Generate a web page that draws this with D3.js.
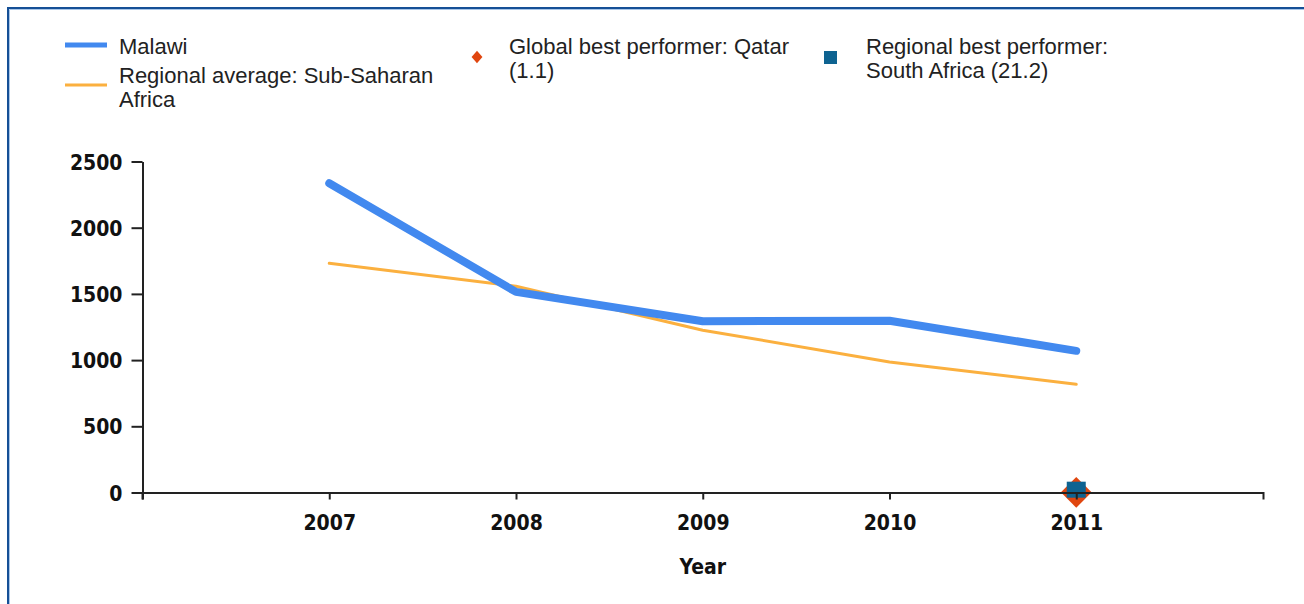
<!DOCTYPE html>
<html>
<head>
<meta charset="utf-8">
<script src="https://cdn.jsdelivr.net/npm/d3@7"></script>
<style>
  body { margin: 0; background: #fff; }
  svg { display: block; }
  .tick text { font-family: "DejaVu Sans Condensed", "DejaVu Sans", Verdana, sans-serif; font-stretch: condensed; font-weight: bold; font-size: 21px; fill: #111; }
  .legend text { font-family: "Liberation Sans", Arial, sans-serif; font-size: 22px; fill: #222; }
</style>
</head>
<body>
<div id="chart"></div>
<script>
// chart data
var years = [2007, 2008, 2009, 2010, 2011];
var malawi = [2336, 1515, 1294, 1297, 1070];
var regionalAvg = [1731, 1558, 1226, 986, 817];
var globalBest = [{year: 2011, value: 1.1}];
var regionalBest = [{year: 2011, value: 21.2}];
var yTicks = [0, 500, 1000, 1500, 2000, 2500];

var width = 1304,
    height = 604;

var svg = d3.select("#chart")
  .append("svg")
  .attr("width", width)
  .attr("height", height);

// frame border (left and top only visible)
svg.append("path")
  .attr("d", "M8,604 V8 H1304")
  .attr("fill", "none")
  .attr("stroke", "#154f96")
  .attr("stroke-width", 2);
svg.append("path")
  .attr("d", "M9.5,604 V9.5 H1304")
  .attr("fill", "none")
  .attr("stroke", "#a9c6e8")
  .attr("stroke-width", 1);

// scales
var xScale = d3.scaleLinear().domain([2006, 2012]).range([142.5, 1263]),
    yScale = d3.scaleLinear().domain([0, 2500]).range([492.5, 161.5]);

var line = d3.line()
  .x(function(d) { return xScale(d[0]); })
  .y(function(d) { return yScale(d[1]); });

// series lines
svg.append("path")
  .datum(d3.zip(years, regionalAvg))
  .attr("d", line)
  .attr("fill", "none")
  .attr("stroke", "#fbb03f")
  .attr("stroke-width", 3)
  .attr("stroke-linejoin", "round")
  .attr("stroke-linecap", "round");

svg.append("path")
  .datum(d3.zip(years, malawi))
  .attr("d", line)
  .attr("fill", "none")
  .attr("stroke", "#4289ef")
  .attr("stroke-width", 8)
  .attr("stroke-linejoin", "round")
  .attr("stroke-linecap", "round");

// best performer markers
var bigDiamond = d3.symbol().type(d3.symbolDiamond2).size(600);
svg.selectAll("path.global")
  .data(globalBest)
  .enter().append("path")
  .attr("class", "global")
  .attr("d", bigDiamond)
  .attr("transform", function(d) { return "translate(" + xScale(d.year) + "," + yScale(d.value) + ")"; })
  .attr("fill", "#e0460f");

svg.selectAll("rect.regional")
  .data(regionalBest)
  .enter().append("rect")
  .attr("class", "regional")
  .attr("x", function(d) { return xScale(d.year) - 9.5; })
  .attr("y", function(d) { return yScale(d.value) - 8; })
  .attr("width", 19)
  .attr("height", 16)
  .attr("fill", "#0e6391");

// axes
var xAxis = d3.axisBottom(xScale)
  .tickValues(years)
  .tickFormat(d3.format("d"))
  .tickSizeInner(7)
  .tickSizeOuter(7)
  .tickPadding(16);

var yAxis = d3.axisLeft(yScale)
  .tickValues(yTicks)
  .tickFormat(d3.format("d"))
  .tickSizeInner(11)
  .tickSizeOuter(0)
  .tickPadding(9);

var gx = svg.append("g")
  .attr("class", "x axis")
  .attr("transform", "translate(0," + yScale(0) + ")")
  .call(xAxis);

var gy = svg.append("g")
  .attr("class", "y axis")
  .attr("transform", "translate(" + xScale(2006) + ",0)")
  .call(yAxis);

svg.selectAll(".axis path, .axis line")
  .attr("stroke", "#222")
  .attr("stroke-width", 2);
gy.selectAll(".tick text").attr("dy", "0.36em");

// y axis runs a bit under the x axis
gy.append("line")
  .attr("x1", 0).attr("x2", 0)
  .attr("y1", yScale(0)).attr("y2", yScale(0) + 7)
  .attr("stroke", "#222")
  .attr("stroke-width", 2);

svg.append("text")
  .attr("x", (xScale(2009)))
  .attr("y", 574)
  .attr("text-anchor", "middle")
  .style("font-family", "'DejaVu Sans Condensed', 'DejaVu Sans', Verdana, sans-serif")
  .style("font-stretch", "condensed")
  .style("font-weight", "bold")
  .style("font-size", "21px")
  .style("fill", "#111")
  .text("Year");

// legend
var legend = svg.append("g").attr("class", "legend");

legend.append("line")
  .attr("x1", 65).attr("x2", 107).attr("y1", 45).attr("y2", 45)
  .attr("stroke", "#4289ef").attr("stroke-width", 5);
legend.append("line")
  .attr("x1", 65).attr("x2", 107).attr("y1", 85).attr("y2", 85)
  .attr("stroke", "#fbb03f").attr("stroke-width", 3);
legend.append("path")
  .attr("d", d3.symbol().type(d3.symbolDiamond2).size(75)())
  .attr("transform", "translate(477,57) scale(1,1.15)")
  .attr("fill", "#e0460f");
legend.append("rect")
  .attr("x", 824).attr("y", 51).attr("width", 13).attr("height", 13)
  .attr("fill", "#0e6391");

var legendText = [
  {x: 119, y: 54, lines: ["Malawi"]},
  {x: 119, y: 83, lines: ["Regional average: Sub-Saharan", "Africa"]},
  {x: 509, y: 54, lines: ["Global best performer: Qatar", "(1.1)"]},
  {x: 866, y: 54, lines: ["Regional best performer:", "South Africa (21.2)"]}
];

legendText.forEach(function(item) {
  var t = legend.append("text")
    .attr("x", item.x)
    .attr("y", item.y);
  item.lines.forEach(function(s, i) {
    t.append("tspan")
      .attr("x", item.x)
      .attr("dy", i == 0 ? 0 : 24)
      .text(s);
  });
});
</script>
</body>
</html>
